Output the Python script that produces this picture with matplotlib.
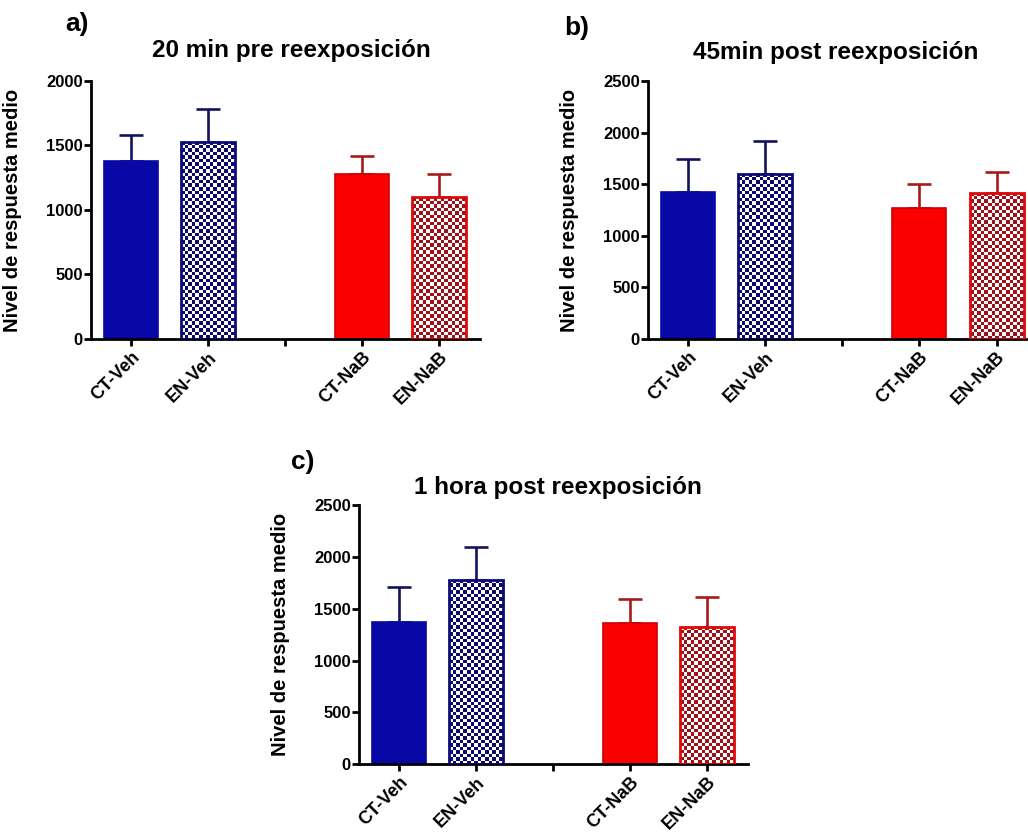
import numpy as np
import matplotlib
matplotlib.use("Agg")
import matplotlib.pyplot as plt
from matplotlib.colors import ListedColormap

plt.rcParams['font.family'] = ['Liberation Sans', 'DejaVu Sans']
plt.rcParams['font.weight'] = 'bold'

# ---- data ----
groups = ["CT-Veh", "EN-Veh", "", "CT-NaB", "EN-NaB"]
positions = [0, 1, 3, 4]
bar_labels = ["CT-Veh", "EN-Veh", "CT-NaB", "EN-NaB"]

means_a = [1382, 1529, 1277, 1098]
upper_a = [1581, 1783, 1421, 1279]

means_b = [1421, 1602, 1266, 1415]
upper_b = [1741, 1921, 1499, 1615]

means_c = [1375, 1778, 1365, 1327]
upper_c = [1710, 2094, 1597, 1611]

titles = ["20 min pre reexposición", "45min post reexposición", "1 hora post reexposición"]
panel_tags = ["a)", "b)", "c)"]
ylims = [2000, 2500, 2500]
ylabel = "Nivel de respuesta medio"

# ---- style ----
BLUE = "#0808a6"
BLUE_DARK = "#12125e"
RED = "#fb0000"
RED_DARK = "#a81a1a"
fills = [BLUE, None, RED, None]
checker_colors = [None, "#0a0a70", None, "#a01018"]
edge_colors = [BLUE, "#0c0c78", "#d00000", "#e00808"]
err_colors = [BLUE_DARK, BLUE_DARK, RED_DARK, RED_DARK]

fig = plt.figure(figsize=(10.28, 8.38), dpi=100)

axes_rects = [
    [0.0885, 0.5955, 0.378, 0.3079],
    [0.6304, 0.5955, 0.378, 0.3079],
    [0.3492, 0.0883, 0.378, 0.3087],
]
title_y = [0.940, 0.937, 0.418]
title_dx = [0.006, -0.006, 0.005]
tag_xy = [(0.063, 0.971), (0.549, 0.966), (0.283, 0.449)]

datasets = [(means_a, upper_a), (means_b, upper_b), (means_c, upper_c)]
cell_px = 3.5
width = 0.70

for k, (rect, (means, upper)) in enumerate(zip(axes_rects, datasets)):
    ax = fig.add_axes(rect)
    ax.set_xlim(-0.52, 4.52)
    ax.set_ylim(0, ylims[k])
    errs = [u - m for u, m in zip(upper, means)]

    for i, (x, m) in enumerate(zip(positions, means)):
        # error bar (upper only)
        ax.errorbar(x, m, yerr=[[0], [errs[i]]], fmt='none', ecolor=err_colors[i],
                    elinewidth=1.9, capsize=8.5, capthick=1.9, zorder=1)
        if fills[i] is not None:
            ax.bar(x, m, width=width, color=fills[i], edgecolor=edge_colors[i],
                   linewidth=1.2, zorder=2)
        else:
            b = ax.bar(x, m, width=width, color="white", edgecolor="none", zorder=2)[0]
            x0 = b.get_x()
            x1 = x0 + b.get_width()
            p0 = ax.transData.transform((x0, 0))
            p1 = ax.transData.transform((x1, m))
            ncols = max(1, int(round((p1[0] - p0[0]) / cell_px)))
            nrows = max(1, int(round((p1[1] - p0[1]) / cell_px)))
            ii, jj = np.indices((nrows, ncols))
            arr = ((ii + jj) % 2).astype(float)
            cmap = ListedColormap(["white", checker_colors[i]])
            im = ax.imshow(arr, extent=(x0, x1, 0, m), origin='lower', cmap=cmap,
                           interpolation='nearest', aspect='auto', zorder=2.5,
                           vmin=0, vmax=1)
            im.set_clip_path(b)
            ax.bar(x, m, width=width, fill=False, edgecolor=edge_colors[i],
                   linewidth=2.0, zorder=3)

    ax.set_xlim(-0.52, 4.52)
    ax.set_ylim(0, ylims[k])
    ax.set_yticks(np.arange(0, ylims[k] + 1, 500))
    ax.set_xticks(range(len(groups)))
    ax.set_xticklabels(groups, rotation=45, ha='right', rotation_mode='anchor',
                       fontsize=13, fontweight='bold')
    for lab in ax.get_yticklabels():
        lab.set_fontsize(12)
        lab.set_fontweight('bold')
    for s in ['top', 'right']:
        ax.spines[s].set_visible(False)
    for s in ['left', 'bottom']:
        ax.spines[s].set_linewidth(2.0)
    ax.tick_params(axis='both', direction='out', length=5, width=2.0, pad=2)
    ax.tick_params(axis='y', pad=1)
    ax.set_ylabel(ylabel, fontsize=14.5, fontweight='bold')
    ax.yaxis.set_label_coords(-0.177, 0.5)

    cx = rect[0] + rect[2] / 2 + title_dx[k]
    fig.text(cx, title_y[k], titles[k], ha='center', va='center', fontsize=17.5,
             fontweight='bold')
    fig.text(tag_xy[k][0], tag_xy[k][1], panel_tags[k], ha='left', va='center',
             fontsize=19, fontweight='bold')

fig.savefig("out.png", dpi=100, facecolor='white')
